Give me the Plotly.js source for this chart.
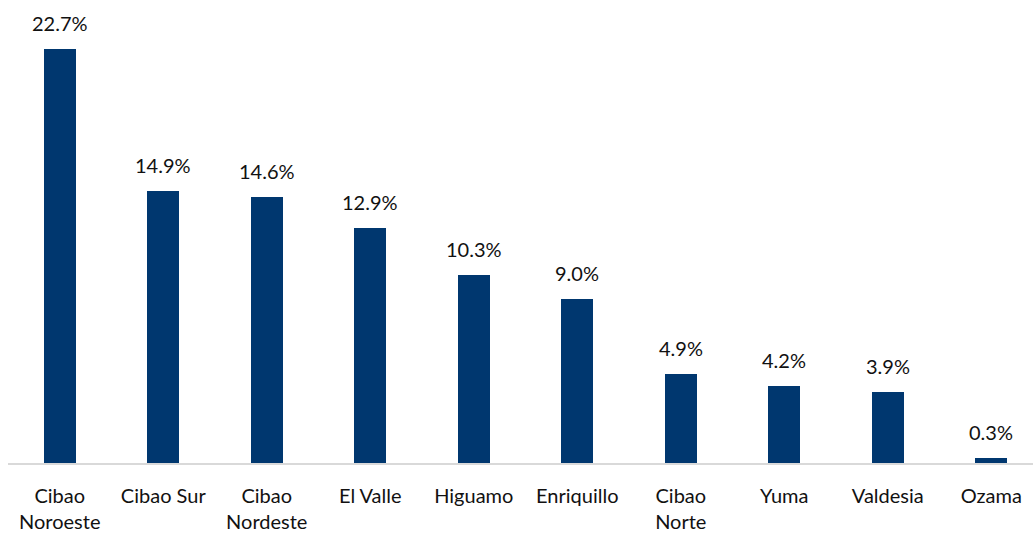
<!DOCTYPE html>
<html>
<head>
<meta charset="utf-8">
<script src="https://cdn.plot.ly/plotly-3.0.1.min.js"></script>
<style>
  html, body { margin: 0; padding: 0; background: #fff; }
  #chart { width: 1033px; height: 533px; }
</style>
</head>
<body>
<div id="chart"></div>
<script>
// regiones y porcentajes
const regiones = ['Cibao<br>Noroeste', 'Cibao Sur', 'Cibao<br>Nordeste', 'El Valle', 'Higuamo',
  'Enriquillo', 'Cibao<br>Norte', 'Yuma', 'Valdesia', 'Ozama'];
const valores = [22.7, 14.9, 14.6, 12.9, 10.3, 9.0, 4.9, 4.2, 3.9, 0.3];
const etiquetas = valores.map(v => v.toFixed(1) + '%');

const FONT = 'Lato, "Open Sans", sans-serif';

const trace = {
  x: regiones,
  y: valores,
  type: 'bar',
  width: 0.31,
  marker: { color: '#00376f' },
  hoverinfo: 'none'
};

// etiquetas encima de cada barra
const anotaciones = valores.map((v, i) => ({
  x: regiones[i],
  y: v,
  text: etiquetas[i],
  showarrow: false,
  yanchor: 'bottom',
  yshift: 12,
  font: { family: FONT, size: 20, color: '#111' }
}));

const layout = {
  width: 1033,
  height: 533,
  margin: { l: 8, r: 0, t: 30, b: 70 },
  paper_bgcolor: '#fff',
  plot_bgcolor: '#fff',
  showlegend: false,
  bargap: 0,
  xaxis: {
    type: 'category',
    range: [-0.5, 9.403],
    showline: true,
    linecolor: '#d9d9d9',
    linewidth: 2,
    ticks: 'outside',
    ticklen: 14,
    tickcolor: 'rgba(0,0,0,0)',
    tickfont: { family: FONT, size: 20, color: '#111' },
    showgrid: false,
    zeroline: false
  },
  yaxis: {
    range: [0, 23.74],
    visible: false,
    showgrid: false,
    zeroline: false
  },
  annotations: anotaciones
};

Plotly.newPlot('chart', [trace], layout, { staticPlot: true });
</script>
</body>
</html>
